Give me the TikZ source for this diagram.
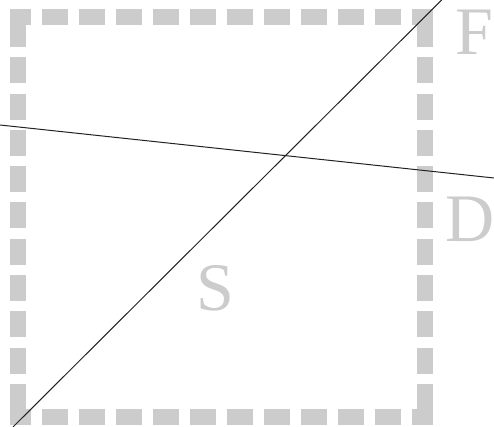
\documentclass[tikz,border=0pt]{standalone}
\usepackage{fontspec}
\setmainfont{Liberation Serif}
\definecolor{boxgray}{HTML}{CCCCCC}
\definecolor{linegray}{HTML}{222222}
\begin{document}
\begin{tikzpicture}[x=1pt,y=-1pt,
  frameh/.style={draw=boxgray,line width=16pt,dash pattern=on 26.5pt off 10.5pt,dash phase=5.5pt},
  framev/.style={draw=boxgray,line width=16pt,dash pattern=on 26pt off 10.3pt,dash phase=4.5pt},
  cut/.style={draw=linegray,line width=1pt},
  lbl/.style={text=boxgray,font=\fontsize{68}{68}\selectfont,inner sep=0pt,anchor=base}]
\useasboundingbox (0,0) rectangle (494,427);
% frame corners
\coordinate (tl) at (18,17.5);
\coordinate (tr) at (425,17.5);
\coordinate (br) at (425,417);
\coordinate (bl) at (18,417);
\draw[frameh] ([xshift=-8pt]tl) -- ([xshift=8pt]tr);
\draw[frameh] ([xshift=-8pt]bl) -- ([xshift=8pt]br);
\draw[framev] ([yshift=-8pt]tl) -- ([yshift=8pt]bl);
\draw[framev] ([yshift=-8pt]tr) -- ([yshift=8pt]br);
% lines
\coordinate (d1) at (13,427);
\coordinate (d2) at (441.7,0);
\coordinate (h1) at (0,125);
\coordinate (h2) at (494,178);
\draw[cut] (d1) -- (d2);
\draw[cut] (h1) -- (h2);
% labels
\node[lbl] (F) at (474,55) {F};
\node[lbl] (D) at (470,241.5) {D};
\node[lbl] (S) at (215,310.5) {S};
\end{tikzpicture}
\end{document}
